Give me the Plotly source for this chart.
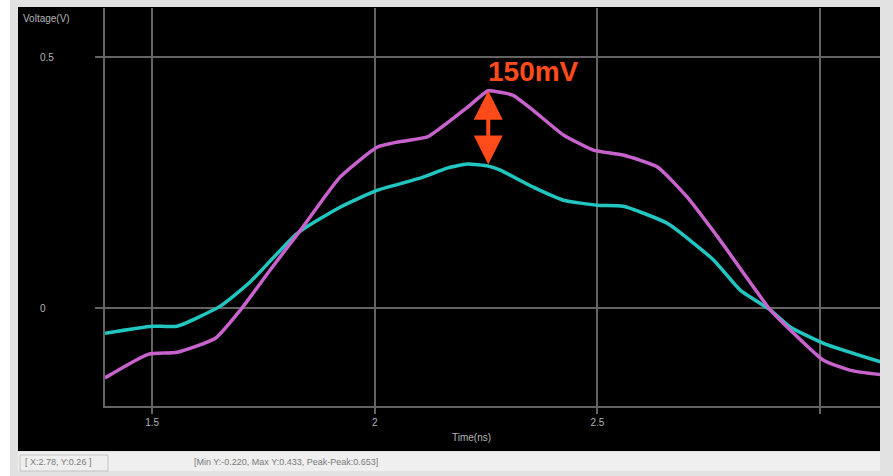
import plotly.graph_objects as go

# ---- waveform data (time in ns, voltage in V) ----
time_ns_a = [1.394, 1.491, 1.556, 1.642, 1.698, 1.765, 1.833, 1.922, 2.006, 2.051,
             2.118, 2.163, 2.208, 2.255, 2.282, 2.311, 2.356, 2.424, 2.491, 2.558,
             2.635, 2.702, 2.776, 2.889, 2.934, 3.008, 3.069, 3.140]
volt_a = [-0.139, -0.092, -0.088, -0.060, -0.004, 0.076, 0.155, 0.261, 0.321, 0.331,
          0.341, 0.369, 0.400, 0.433, 0.430, 0.424, 0.394, 0.345, 0.315, 0.305,
          0.281, 0.221, 0.135, -0.004, -0.044, -0.104, -0.124, -0.133]

time_ns_b = [1.394, 1.500, 1.556, 1.653, 1.720, 1.826, 1.922, 2.006, 2.102, 2.163,
             2.208, 2.255, 2.282, 2.356, 2.424, 2.500, 2.558, 2.657, 2.761, 2.821,
             2.889, 2.934, 3.008, 3.140]
volt_b = [-0.050, -0.036, -0.036, 0.004, 0.052, 0.149, 0.201, 0.235, 0.259, 0.279,
          0.287, 0.283, 0.275, 0.241, 0.215, 0.205, 0.203, 0.169, 0.096, 0.036,
          -0.004, -0.038, -0.070, -0.108]

x_ticks = [1.5, 2, 2.5, 3]
x_tick_text = ["1.5", "2", "2.5", ""]
y_ticks = [0, 0.5]
y_tick_text = ["0", "0.5"]

marker_time = 2.255          # where the difference is measured
status_left = "[ X:2.78, Y:0.26 ]"
status_right = "[Min Y:-0.220, Max Y:0.433, Peak-Peak:0.653]"

# ---- page geometry ----
W, H = 893, 476
L, R, T, B = 105, 13, 8, 70
PW, PH = W - L - R, H - T - B


def px_x(p):
    return (p - L) / PW


def px_y(p):
    return (H - B - p) / PH


MAGENTA = "#c862cc"
CYAN = "#22c6c0"
GRID = "#636363"
LABEL = "#b4b4b4"
ORANGE = "#ff4b1a"
FONT = "Liberation Sans, Arial, sans-serif"

fig = go.Figure()
fig.add_trace(go.Scatter(x=time_ns_b, y=volt_b, mode="lines",
                         line=dict(color=CYAN, width=3.5, shape="spline", smoothing=0.5),
                         hoverinfo="skip"))
fig.add_trace(go.Scatter(x=time_ns_a, y=volt_a, mode="lines",
                         line=dict(color=MAGENTA, width=3.5, shape="spline", smoothing=0.5),
                         hoverinfo="skip"))

# measured difference between the two waveforms at the marker time
va = volt_a[time_ns_a.index(marker_time)]
vb = volt_b[time_ns_b.index(marker_time)]
delta_mv = round((va - vb) * 1000)

shapes = [
    # window frame
    dict(type="rect", xref="paper", yref="paper", x0=px_x(10), x1=px_x(893),
         y0=px_y(476), y1=px_y(0), fillcolor="#e2e2e2", line_width=0, layer="below"),
    # black plotting panel
    dict(type="rect", xref="paper", yref="paper", x0=px_x(18), x1=px_x(880),
         y0=px_y(451), y1=px_y(7), fillcolor="#000000", line_width=0, layer="below"),
    # status bar
    dict(type="rect", xref="paper", yref="paper", x0=px_x(18), x1=px_x(880),
         y0=px_y(471), y1=px_y(452), fillcolor="#efefef", line_width=0, layer="below"),
    dict(type="rect", xref="paper", yref="paper", x0=px_x(20), x1=px_x(108),
         y0=px_y(471), y1=px_y(455), fillcolor="rgba(0,0,0,0)",
         line=dict(color="#c4c4c4", width=1), layer="below"),
]

annotations = [
    dict(x=marker_time, y=va, ax=marker_time, ay=vb, xref="x", yref="y",
         axref="x", ayref="y", text="", showarrow=True, arrowside="end+start",
         arrowhead=2, arrowsize=1.45, arrowwidth=4, arrowcolor=ORANGE,
         standoff=0, startstandoff=0),
    dict(x=2.356, y=0.472, xref="x", yref="y", text=f"{delta_mv}mV", showarrow=False,
         font=dict(family=FONT, size=28, color=ORANGE, weight="bold"),
         xanchor="center", yanchor="middle"),
    dict(x=px_x(21), y=px_y(19), xref="paper", yref="paper", text="Voltage(V)",
         showarrow=False, xanchor="left", yanchor="middle",
         font=dict(family=FONT, size=10, color=LABEL)),
    dict(x=px_x(471), y=px_y(438), xref="paper", yref="paper", text="Time(ns)",
         showarrow=False, xanchor="center", yanchor="middle",
         font=dict(family=FONT, size=10, color=LABEL)),
    dict(x=px_x(23), y=px_y(462), xref="paper", yref="paper", text=status_left,
         showarrow=False, xanchor="left", yanchor="middle",
         font=dict(family=FONT, size=9, color="#7a7a7a")),
    dict(x=px_x(192), y=px_y(462), xref="paper", yref="paper", text=status_right,
         showarrow=False, xanchor="left", yanchor="middle",
         font=dict(family=FONT, size=9, color="#7a7a7a")),
]
# y tick labels, left aligned inside the panel margin
for v, t in zip(y_ticks, y_tick_text):
    annotations.append(dict(x=px_x(38), y=v, xref="paper", yref="y", text=t,
                            showarrow=False, xanchor="left", yanchor="middle",
                            font=dict(family=FONT, size=10, color=LABEL)))

fig.update_layout(
    width=W, height=H,
    margin=dict(l=L, r=R, t=T, b=B, pad=0),
    paper_bgcolor="#ffffff",
    plot_bgcolor="rgba(0,0,0,0)",
    showlegend=False,
    shapes=shapes,
    annotations=annotations,
    xaxis=dict(range=[1.394, 3.135], tickvals=x_ticks, ticktext=x_tick_text,
               showgrid=True, gridcolor=GRID, gridwidth=2, zeroline=False,
               showline=True, linecolor=GRID, linewidth=2,
               ticks="outside", ticklen=6, tickwidth=2, tickcolor=GRID,
               tickfont=dict(family=FONT, size=10, color=LABEL),
               fixedrange=True),
    yaxis=dict(range=[-0.195, 0.598], tickvals=y_ticks, showticklabels=False,
               showgrid=True, gridcolor=GRID, gridwidth=2, zeroline=False,
               showline=True, linecolor=GRID, linewidth=2,
               ticks="outside", ticklen=8, tickwidth=2, tickcolor=GRID,
               fixedrange=True),
)

fig.write_html("out.html", config={"displayModeBar": False})
